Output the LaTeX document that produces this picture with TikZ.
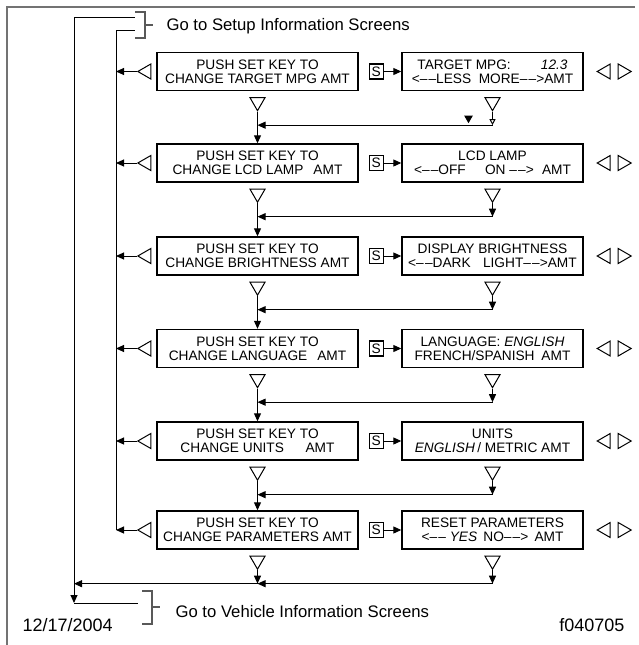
\documentclass[tikz,border=0pt]{standalone}
\usepackage{fontspec}
\setmainfont{Liberation Sans}
\usetikzlibrary{arrows.meta,shapes.geometric,positioning,calc}

\newcommand\dd{–\kern1.2pt–}
\tikzset{
  screen/.style={draw, line width=1.4pt, minimum height=38pt, inner sep=1pt, align=center, font=\fontsize{13.7}{14}\selectfont},
  lscreen/.style={screen, minimum width=201pt},
  rscreen/.style={screen, minimum width=181pt},
  setkey/.style={draw, line width=1.2pt, minimum width=14pt, minimum height=15pt, inner sep=0pt, font=\fontsize{13.7}{14}\selectfont},
  tri/.style={draw, line width=1pt, regular polygon, regular polygon sides=3, minimum size=17.3pt, inner sep=0pt},
  tridown/.style={tri, shape border rotate=180},
  trileft/.style={tri, shape border rotate=90},
  triright/.style={tri, shape border rotate=-90},
  flow/.style={line width=1pt, -{Triangle[length=8pt,width=7pt]}},
  brace/.style={black!65, line width=1.2pt},
  caption/.style={font=\fontsize{16.7}{18}\selectfont, anchor=base west},
}

\begin{document}
\begin{tikzpicture}[x=1pt, y=-1pt]
  \useasboundingbox (0,0) rectangle (639,645);
  \draw[black!55, line width=2pt] (7,645) -- (7,7) -- (635,7);

  % screens
  \node[lscreen] (L1) at (257.5,71.5) {PUSH SET KEY TO\\CHANGE TARGET MPG AMT};
  \node[lscreen] (L2) at (257.5,163) {PUSH SET KEY TO\\CHANGE LCD LAMP\hspace{0.45em} AMT};
  \node[lscreen] (L3) at (257.5,256) {PUSH SET KEY TO\\CHANGE BRIGHTNESS AMT};
  \node[lscreen] (L4) at (257.5,348.5) {PUSH SET KEY TO\\CHANGE LANGUAGE\hspace{0.45em} AMT};
  \node[lscreen] (L5) at (257.5,441) {PUSH SET KEY TO\\CHANGE UNITS\hspace{1.3em} AMT};
  \node[lscreen] (L6) at (257.5,530) {PUSH SET KEY TO\\CHANGE PARAMETERS AMT};
  \node[rscreen] (R1) at (492.5,71.5) {TARGET MPG:\hspace{2.2em}\textit{12.3}\\<\dd LESS\hspace{0.55em}MORE\dd>AMT};
  \node[rscreen] (R2) at (492.5,163) {LCD LAMP\\<\dd OFF\hspace{1.4em}ON \dd>\hspace{0.6em}AMT};
  \node[rscreen] (R3) at (492.5,256) {DISPLAY BRIGHTNESS\\<\dd DARK\hspace{0.9em}LIGHT\dd>AMT};
  \node[rscreen] (R4) at (492.5,348.5) {LANGUAGE: \textit{ENGLISH}\\FRENCH/SPANISH\hspace{0.5em}AMT};
  \node[rscreen] (R5) at (492.5,441) {UNITS\\\textit{ENGLISH}\,/ METRIC AMT};
  \node[rscreen] (R6) at (492.5,530) {RESET PARAMETERS\\<\dd{} \textit{YES}\hspace{0.45em}NO\dd>\hspace{0.45em}AMT};

  \coordinate (outl) at (74,17);
  \coordinate (outb) at (74,603);
  \coordinate (inl) at (116,30);

  \foreach \i in {1,...,6}{
    \node[setkey, right=10pt of L\i] (S\i) {S};
    \node[tridown, anchor=north] (dl\i) at ($(L\i.south)+(0,6)$) {};
    \node[tridown, anchor=north] (dr\i) at ($(R\i.south)+(0,6)$) {};
    \node[trileft, anchor=east] (al\i) at ($(L\i.west)+(-5,0)$) {};
    \node[trileft, anchor=east] (bl\i) at ($(R\i.east)+(27,0)$) {};
    \node[triright, anchor=west] (br\i) at ($(bl\i.east)+(7,0)$) {};
    \coordinate (jr\i) at ($(dr\i.south)+(0,13.5)$);
    \draw[flow] (S\i) -- (R\i);
    \draw[flow] (al\i.west) -- (al\i.west -| inl);
    \draw[flow] (jr\i) -- (L\i |- jr\i);
  }
  \foreach \i/\j in {1/2,2/3,3/4,4/5,5/6}
    \draw[flow] (dl\i.south) -- (L\j.north);
  \foreach \i in {2,...,6}
    \draw[flow] (dr\i.south) -- (jr\i);
  \draw[line width=1pt, -{Triangle[open,length=6pt,width=6pt]}] (dr1.south) -- (jr1);
  \node[tridown, fill, minimum size=8pt, anchor=south] (stray) at ($(jr1)+(-24,-2)$) {};
  \draw[flow] (dl6.south) -- (L6 |- jr6);
  \draw[flow] (jr6) -- (outl |- jr6);

  % exits
  \draw[flow] (outl) -- (outb);
  \coordinate (su1) at (135,17);
  \coordinate (su2) at (135,30);
  \coordinate (vh) at (138,603);
  \draw[line width=1pt] (outl) -- (su1) (inl) -- (su2) (outb) -- (vh);
  \draw[line width=1pt] (inl) -- (inl |- al6.west);
  \draw[brace] (135,12) -- (145,12) -- (145,38) -- (135,38) (145,25) -- (153,25);
  \draw[brace] (142,591) -- (152,591) -- (152,624) -- (142,624) (152,607) -- (160,607);
  \node[caption] (setup) at (163,30) {Go to Setup Information Screens};
  \node[caption] (vehicle) at (172,617) {Go to Vehicle Information Screens};
  \node[font=\fontsize{18}{20}\selectfont, anchor=base west] (date) at (19,631) {12/17/2004};
  \node[font=\fontsize{18}{20}\selectfont, anchor=base east] (fig) at (628,631) {f040705};
\end{tikzpicture}
\end{document}
